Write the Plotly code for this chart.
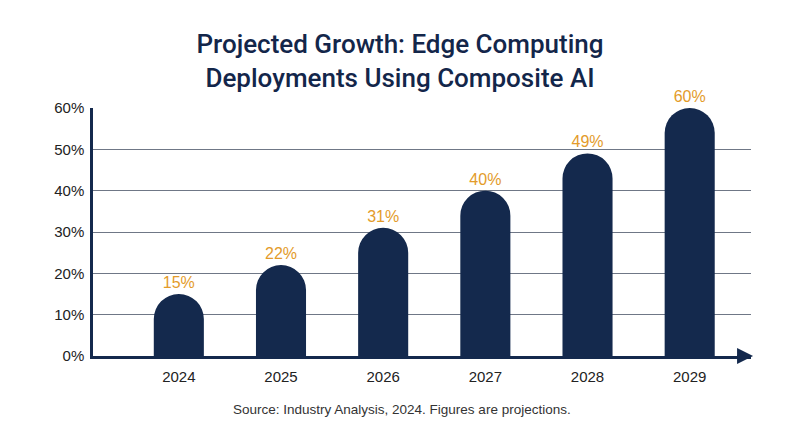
import plotly.graph_objects as go

years = ['2024', '2025', '2026', '2027', '2028', '2029']
share = [15, 22, 31, 40, 49, 60]
y_ticks = [0, 10, 20, 30, 40, 50, 60]

navy = '#14294d'
orange = '#e39b2a'

fig = go.Figure(data=[go.Bar(
    x=years,
    y=share,
    width=0.49,
    marker=dict(color=navy, cornerradius='50%', line=dict(width=0)),
    text=[f'{v}%' for v in share],
    textposition='outside',
    textfont=dict(color=orange, size=16, family='Liberation Sans'),
    cliponaxis=False,
)])

# the page adds an 8px body margin, so margins are shifted by 8px
fig.update_layout(
    width=800, height=447,
    paper_bgcolor='white', plot_bgcolor='white',
    margin=dict(l=85, r=57, t=100, b=99),
    showlegend=False,
    font=dict(family='Liberation Sans', color='#222222'),
    title=dict(
        text='Projected Growth: Edge Computing<br>Deployments Using Composite AI',
        x=0.49, xanchor='center', y=0.9, yanchor='top',
        font=dict(size=26, color='#13264a', family='Roboto', weight=500),
    ),
)

fig.update_xaxes(
    type='category', range=[-0.84, 5.6],
    showline=True, linecolor=navy, linewidth=2.5,
    showgrid=False, ticks='', ticklabelstandoff=5,
    tickfont=dict(size=15, color='#222222'),
)
fig.update_yaxes(
    range=[0, 60], tickmode='array', tickvals=y_ticks,
    ticktext=[f'{v}%' for v in y_ticks],
    showline=True, linecolor=navy, linewidth=2.5,
    showgrid=True, gridcolor='#6f7786', gridwidth=1.2,
    zeroline=False, ticks='', ticklabelstandoff=3,
    tickfont=dict(size=15, color='#222222'),
)

# arrow at the end of the x axis
fig.add_annotation(
    x=5.62, y=0, ax=5.45, ay=0, xref='x', yref='y', axref='x', ayref='y',
    text='', showarrow=True, arrowhead=2, arrowsize=1.6, arrowwidth=2,
    arrowcolor=navy,
)

fig.add_annotation(
    text='Source: Industry Analysis, 2024. Figures are projections.',
    x=0.47, y=-0.216, xref='paper', yref='paper', yanchor='middle',
    showarrow=False, font=dict(size=13.5, color='#333333'),
)

fig.write_html('out.html')
